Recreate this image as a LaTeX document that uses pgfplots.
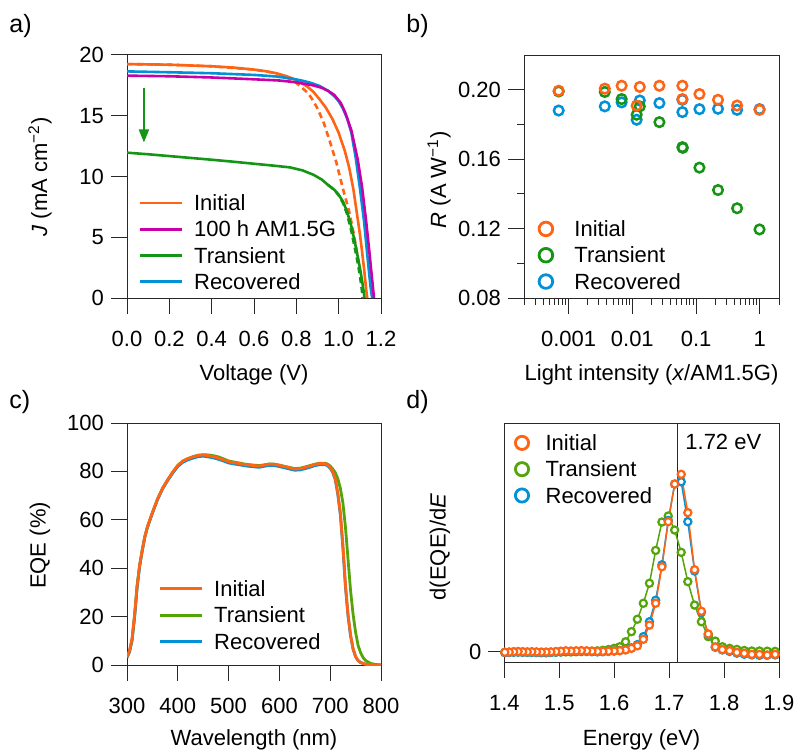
\documentclass[border=0pt]{standalone}
\usepackage{fontspec}
\setmainfont{Liberation Sans}
\usepackage{pgfplots}
\usepackage{pgfplotstable}
\pgfplotsset{compat=1.18}
\usetikzlibrary{arrows.meta}
\newcommand{\fs}{\fontsize{11}{12.5}\selectfont}
\newcommand{\fsl}{\fontsize{12.5}{14}\selectfont}
\definecolor{cOr}{RGB}{255,100,20}
\definecolor{cMa}{RGB}{200,0,170}
\definecolor{cGr}{RGB}{20,150,20}
\definecolor{cGrb}{RGB}{85,165,10}
\definecolor{cBl}{RGB}{0,145,215}
\definecolor{axc}{RGB}{40,40,40}
\pgfplotsset{
 every axis/.append style={
  scale only axis, anchor=south west,
  axis line style={line width=0.5pt, axc},
  every tick/.style={line width=0.5pt, axc},
  tick align=outside, tick pos=left,
  major tick length=8pt, minor tick length=3.5pt,
  tick label style={font=\fs, black},
  xticklabel style={yshift=-5pt},
  label style={font=\fs},
  /pgf/number format/assume math mode=true,
  legend cell align=left,
 },
 linelegend/.style={
  legend style={draw=none, fill=none, inner sep=0pt, row sep=0pt, font=\fs,
   nodes={inner sep=1pt, text height=9.43pt, text depth=1.72pt, anchor=west},
   /tikz/every odd column/.append style={column sep=4.5pt}},
  legend image code/.code={\draw[##1] (0pt,0pt) -- (21pt,0pt);}
 },
 marklegend/.style={
  legend style={draw=none, fill=none, inner sep=0pt, row sep=0pt, font=\fs,
   nodes={inner sep=1pt, text height=9.43pt, text depth=1.72pt, anchor=west},
   /tikz/every odd column/.append style={column sep=#1}},
  legend image code/.code={\draw[##1] plot coordinates {(0pt,0pt)};}
 }
}
% ---------------- panel a data
\pgfplotstableread{
V J
0.00 19.25
0.10 19.23
0.20 19.20
0.30 19.14
0.40 19.07
0.50 18.97
0.60 18.80
0.65 18.68
0.70 18.52
0.75 18.28
0.80 17.94
0.85 17.42
0.88 16.98
0.91 16.35
0.94 15.65
0.97 14.75
1.00 13.60
1.03 12.05
1.05 10.70
1.07 8.90
1.09 6.50
1.10 5.30
1.11 3.90
1.12 2.40
1.13 0.70
1.135 0.00
}\aIni
\pgfplotstableread{
V J
0.00 19.25
0.20 19.20
0.40 19.07
0.60 18.80
0.70 18.52
0.75 18.20
0.80 17.70
0.85 16.95
0.87 16.50
0.90 15.60
0.93 14.40
0.96 12.80
0.99 11.10
1.02 9.00
1.05 7.10
1.07 5.40
1.09 3.40
1.10 2.30
1.11 1.10
1.117 0.00
}\aIniD
\pgfplotstableread{
V J
0.00 18.30
0.20 18.25
0.40 18.15
0.60 18.00
0.72 17.90
0.80 17.75
0.88 17.50
0.92 17.30
0.95 17.05
0.98 16.70
1.01 16.05
1.03 15.30
1.06 13.80
1.09 11.40
1.11 9.20
1.13 6.30
1.145 3.80
1.16 1.20
1.167 0.00
}\aHun
\pgfplotstableread{
V J
0.00 11.96
0.10 11.83
0.20 11.68
0.30 11.53
0.40 11.38
0.50 11.22
0.60 11.05
0.70 10.88
0.77 10.75
0.83 10.50
0.88 10.15
0.92 9.75
0.95 9.30
0.98 8.90
1.00 8.50
1.02 7.95
1.04 7.10
1.06 5.90
1.08 4.30
1.09 3.40
1.10 2.50
1.11 1.50
1.12 0.30
1.122 0.00
}\aTra
\pgfplotstableread{
V J
0.95 9.30
0.98 8.90
1.00 8.45
1.02 7.85
1.04 6.90
1.06 5.50
1.08 3.80
1.09 2.90
1.10 1.90
1.11 0.60
1.113 0.00
}\aTraD
\pgfplotstableread{
V J
0.00 18.65
0.20 18.58
0.40 18.50
0.60 18.36
0.70 18.24
0.77 18.08
0.82 17.92
0.87 17.70
0.91 17.45
0.95 17.05
0.98 16.60
1.00 16.20
1.02 15.60
1.04 14.80
1.06 13.60
1.08 11.60
1.10 9.10
1.12 6.30
1.135 3.60
1.15 1.00
1.158 0.00
}\aRec
% ---------------- panel b data
\pgfplotstableread{
x R
7.0e-4 0.1994
3.7e-3 0.2006
6.8e-3 0.2023
1.17e-2 0.1908
1.31e-2 0.2016
2.66e-2 0.2023
6.1e-2 0.2023
6.1e-2 0.1946
0.113 0.1975
0.221 0.1942
0.44 0.1909
0.99 0.1884
}\bIni
\pgfplotstableread{
x R
7.0e-4 0.1990
3.7e-3 0.1987
6.8e-3 0.1946
1.17e-2 0.1856
1.31e-2 0.1904
2.66e-2 0.1813
6.1e-2 0.1669
6.2e-2 0.1665
0.113 0.1551
0.221 0.1422
0.44 0.1317
0.99 0.1195
}\bTra
\pgfplotstableread{
x R
7.0e-4 0.1880
3.7e-3 0.1904
6.8e-3 0.1927
1.17e-2 0.1827
1.31e-2 0.1938
2.66e-2 0.1923
6.1e-2 0.1871
6.1e-2 0.1942
0.113 0.1888
0.221 0.1890
0.44 0.1884
0.99 0.1888
}\bRec
% ---------------- panel c data
\pgfplotstableread{
L E
300 3.4
305 6.0
310 11.0
315 21.0
320 33.0
325 41.5
330 47.5
335 53.0
340 57.0
350 63.0
360 68.5
370 73.0
380 76.5
390 79.7
400 82.5
410 84.3
420 85.3
430 86.0
440 86.6
450 86.8
460 86.5
470 86.1
480 85.5
490 84.8
500 84.0
510 83.6
520 83.3
530 82.9
540 82.6
550 82.4
560 82.2
570 82.6
580 83.0
590 82.9
600 82.5
610 82.0
620 81.5
630 81.0
640 81.1
650 81.6
660 82.2
670 82.9
680 83.3
690 83.2
695 82.6
700 81.6
705 80.0
710 77.0
715 71.0
720 63.0
725 49.5
730 33.0
735 21.0
740 12.5
745 6.8
750 3.5
755 1.8
760 1.0
770 0.3
780 0.1
790 0.0
800 0.0
}\cIni
\pgfplotstableread{
L E
300 3.2
305 5.6
310 10.4
315 20.2
320 32.4
325 41.0
330 47.2
335 52.8
340 56.8
350 62.8
360 68.3
370 72.8
380 76.2
390 79.3
400 82.0
410 83.8
420 84.8
430 85.5
440 86.1
450 86.3
460 86.0
470 85.6
480 85.0
490 84.3
500 83.5
510 83.1
520 82.8
530 82.4
540 82.1
550 81.9
560 81.7
570 82.1
580 82.5
590 82.4
600 82.0
610 81.5
620 81.0
630 80.5
640 80.6
650 81.1
660 81.7
670 82.4
680 82.8
690 82.8
695 82.3
700 81.3
705 79.6
710 76.5
715 70.5
720 62.0
725 48.5
730 32.5
735 20.5
740 12.2
745 6.6
750 3.4
755 1.8
760 1.0
770 0.3
780 0.1
790 0.0
800 0.0
}\cRec
\pgfplotstableread{
L E
300 3.0
305 5.5
310 10.2
315 20.0
320 32.5
325 41.2
330 47.3
335 52.8
340 56.8
350 62.9
360 68.5
370 73.0
380 76.5
390 79.7
400 82.5
410 84.3
420 85.3
430 86.1
440 86.7
450 86.9
460 86.8
470 86.5
480 86.0
490 85.2
500 84.3
510 83.9
520 83.5
530 83.1
540 82.8
550 82.6
560 82.4
570 82.7
580 83.1
590 83.0
600 82.6
610 82.1
620 81.6
630 81.2
640 81.3
650 81.8
660 82.4
670 83.0
680 83.4
690 83.4
695 83.0
700 82.2
705 81.0
710 79.5
715 77.0
720 73.0
725 67.0
730 57.0
735 44.0
740 31.0
745 21.0
750 13.5
755 8.0
760 5.0
765 3.0
770 1.8
780 0.6
790 0.2
800 0.0
}\cTra
% ---------------- panel d data
\pgfplotstableread{
E D
1.8929 -0.015
1.8785 -0.019
1.8644 -0.015
1.8505 -0.015
1.8368 -0.009
1.8233 -0.004
1.8100 0.006
1.7969 0.012
1.7840 0.027
1.7712 0.100
1.7587 0.228
1.7463 0.462
1.7340 0.784
1.7220 1.000
1.7101 0.945
1.6984 0.733
1.6869 0.479
1.6755 0.273
1.6642 0.150
1.6531 0.070
1.6422 0.033
1.6314 0.019
1.6207 0.010
1.6102 0.006
1.5998 0.004
1.5895 0.003
1.5794 0.002
1.5694 0.002
1.5595 0.003
1.5498 0.005
1.5402 0.006
1.5307 0.005
1.5213 0.004
1.5120 0.005
1.5028 0.003
1.4938 0.001
1.4848 -0.001
1.4760 -0.002
1.4673 -0.002
1.4586 -0.001
1.4501 0.000
1.4417 -0.001
1.4334 0.000
1.4251 0.001
1.4170 0.000
1.4089 -0.002
1.4009 -0.003
}\dIni
\pgfplotstableread{
E D
1.8929 -0.018
1.8785 -0.020
1.8644 -0.020
1.8505 -0.018
1.8368 -0.014
1.8233 -0.008
1.8100 0.002
1.7969 0.010
1.7840 0.025
1.7712 0.098
1.7587 0.222
1.7463 0.455
1.7340 0.733
1.7220 0.958
1.7101 0.945
1.6984 0.740
1.6869 0.490
1.6755 0.290
1.6642 0.169
1.6531 0.085
1.6422 0.040
1.6314 0.022
1.6207 0.012
1.6102 0.007
1.5998 0.004
1.5895 0.002
1.5794 0.000
1.5694 -0.001
1.5595 0.000
1.5498 0.002
1.5402 0.003
1.5307 0.002
1.5213 0.001
1.5120 0.002
1.5028 0.000
1.4938 -0.002
1.4848 -0.004
1.4760 -0.005
1.4673 -0.005
1.4586 -0.004
1.4501 -0.003
1.4417 -0.004
1.4334 -0.003
1.4251 -0.002
1.4170 -0.003
1.4089 -0.004
1.4009 -0.005
}\dRec
\pgfplotstableread{
E D
1.8929 0.002
1.8785 0.003
1.8644 0.004
1.8505 0.004
1.8368 0.007
1.8233 0.013
1.8100 0.019
1.7969 0.028
1.7840 0.060
1.7712 0.085
1.7587 0.169
1.7463 0.263
1.7340 0.395
1.7220 0.560
1.7101 0.686
1.6984 0.765
1.6869 0.731
1.6755 0.571
1.6642 0.386
1.6531 0.273
1.6422 0.183
1.6314 0.113
1.6207 0.056
1.6102 0.028
1.5998 0.019
1.5895 0.012
1.5794 0.008
1.5694 0.005
1.5595 0.003
1.5498 0.002
1.5402 0.001
1.5307 0.000
1.5213 -0.001
1.5120 -0.001
1.5028 -0.002
1.4938 -0.003
1.4848 -0.004
1.4760 -0.005
1.4673 -0.005
1.4586 -0.004
1.4501 -0.004
1.4417 -0.003
1.4334 -0.003
1.4251 -0.002
1.4170 -0.002
1.4089 -0.003
1.4009 -0.004
}\dTra
\begin{document}
\begin{tikzpicture}
\path[use as bounding box] (0pt,0pt) rectangle (398pt,-376.5pt);
\node[anchor=west,inner sep=0pt,font=\fsl] at (4.5pt,-12.9pt) {a)};
\node[anchor=west,inner sep=0pt,font=\fsl] at (203pt,-12.9pt) {b)};
\node[anchor=west,inner sep=0pt,font=\fsl] at (4.5pt,-201.2pt) {c)};
\node[anchor=west,inner sep=0pt,font=\fsl] at (203pt,-201.2pt) {d)};
% ================= a
\begin{axis}[at={(63.5pt,-149pt)}, width=127pt, height=121.5pt,
  xmin=0, xmax=1.2, ymin=0, ymax=20,
  xtick={0,0.2,0.4,0.6,0.8,1.0,1.2}, ytick={0,5,10,15,20},
  xticklabel style={/pgf/number format/.cd,fixed,fixed zerofill,precision=1},
  xlabel={Voltage (V)}, ylabel={\textit{J} (mA cm\textsuperscript{−2})},
  xlabel style={at={(axis description cs:0.5,-0.317)}, anchor=center},
  ylabel style={at={(axis description cs:-0.3425,0.498)}, anchor=center, rotate=0},
  linelegend,
  legend style={at={(axis description cs:0.043,0.447)}, anchor=north west}]
\addlegendimage{cOr, line width=1.4pt}\addlegendentry{Initial}
\addlegendimage{cMa, line width=1.4pt}\addlegendentry{100 h AM1.5G}
\addlegendimage{cGr, line width=1.4pt}\addlegendentry{Transient}
\addlegendimage{cBl, line width=1.4pt}\addlegendentry{Recovered}
\addplot[cOr, line width=1.3pt, dash pattern=on 3pt off 2pt, forget plot] table[x=V,y=J] {\aIniD};
\addplot[cOr, line width=1.3pt, forget plot] table[x=V,y=J] {\aIni};
\addplot[cGr, line width=1.3pt, forget plot] table[x=V,y=J] {\aTra};
\addplot[cGr, line width=1.3pt, dash pattern=on 3pt off 2pt, forget plot] table[x=V,y=J] {\aTraD};
\addplot[cBl, line width=1.3pt, forget plot] table[x=V,y=J] {\aRec};
\addplot[cMa, line width=1.3pt, forget plot] table[x=V,y=J] {\aHun};
\addplot[cGr, line width=1pt, forget plot, -{Triangle[length=6.5pt,width=5pt]}] coordinates {(0.08,17.26) (0.08,12.8)};
\end{axis}
% ================= b
\begin{axis}[at={(262pt,-149pt)}, width=127.5pt, height=121.5pt,
  xmode=log, xmin=2e-4, xmax=2, ymin=0.08, ymax=0.22,
  xtick={0.001,0.01,0.1,1}, xticklabels={0.001,0.01,0.1,1},
  minor xtick={2e-4,3e-4,4e-4,5e-4,6e-4,7e-4,8e-4,9e-4,2e-3,3e-3,4e-3,5e-3,6e-3,7e-3,8e-3,9e-3,0.02,0.03,0.04,0.05,0.06,0.07,0.08,0.09,0.2,0.3,0.4,0.5,0.6,0.7,0.8,0.9,2},
  ytick={0.08,0.12,0.16,0.20}, minor ytick={0.10,0.14,0.18},
  yticklabel style={/pgf/number format/.cd,fixed,fixed zerofill,precision=2},
  xlabel={Light intensity (\textit{x}/AM1.5G)}, ylabel={\textit{R} (A W\textsuperscript{−1})},
  xlabel style={at={(axis description cs:0.5,-0.317)}, anchor=center},
  ylabel style={at={(axis description cs:-0.333,0.486)}, anchor=center},
  marklegend=9.85pt,
  legend style={at={(axis description cs:0.0577,0.340)}, anchor=north west}]
\addlegendimage{only marks, mark=o, color=cOr, mark size=3.4pt, mark options={line width=1.4pt}}\addlegendentry{Initial}
\addlegendimage{only marks, mark=o, color=cGr, mark size=3.4pt, mark options={line width=1.4pt}}\addlegendentry{Transient}
\addlegendimage{only marks, mark=o, color=cBl, mark size=3.4pt, mark options={line width=1.4pt}}\addlegendentry{Recovered}
\addplot[only marks, mark=o, color=cBl, mark size=2.4pt, mark options={line width=1.25pt}, forget plot] table[x=x,y=R] {\bRec};
\addplot[only marks, mark=o, color=cGr, mark size=2.4pt, mark options={line width=1.25pt}, forget plot] table[x=x,y=R] {\bTra};
\addplot[only marks, mark=o, color=cOr, mark size=2.4pt, mark options={line width=1.25pt}, forget plot] table[x=x,y=R] {\bIni};
\end{axis}
% ================= c
\begin{axis}[at={(63.5pt,-332.5pt)}, width=127pt, height=121pt,
  xmin=300, xmax=800, ymin=0, ymax=100,
  xtick={300,400,500,600,700,800}, ytick={0,20,40,60,80,100},
  xlabel={Wavelength (nm)}, ylabel={EQE (\%)},
  xlabel style={at={(axis description cs:0.5,-0.31)}, anchor=center},
  ylabel style={at={(axis description cs:-0.3425,0.494)}, anchor=center},
  linelegend,
  legend style={at={(axis description cs:0.122,0.3705)}, anchor=north west}]
\addlegendimage{cOr, line width=1.4pt}\addlegendentry{Initial}
\addlegendimage{cGrb, line width=1.4pt}\addlegendentry{Transient}
\addlegendimage{cBl, line width=1.4pt}\addlegendentry{Recovered}
\addplot[cGrb, line width=1.4pt, forget plot] table[x=L,y=E] {\cTra};
\addplot[cBl, line width=1.4pt, forget plot] table[x=L,y=E] {\cRec};
\addplot[cOr, line width=1.4pt, forget plot] table[x=L,y=E] {\cIni};
\end{axis}
% ================= d
\begin{axis}[at={(252.15pt,-331pt)}, width=137.35pt, height=119.35pt,
  xmin=1.4, xmax=1.9, ymin=-0.058, ymax=1.2875,
  xtick={1.4,1.5,1.6,1.7,1.8,1.9}, ytick={0},
  xticklabel style={/pgf/number format/.cd,fixed,fixed zerofill,precision=1},
  xlabel={Energy (eV)}, ylabel={d(EQE)/d\textit{E}},
  xlabel style={at={(axis description cs:0.5,-0.327)}, anchor=center},
  ylabel style={at={(axis description cs:-0.234,0.482)}, anchor=center},
  marklegend=7.5pt,
  legend style={at={(axis description cs:0.039,0.9747)}, anchor=north west}]
\addlegendimage{only marks, mark=o, color=cOr, mark size=3.3pt, mark options={line width=1.4pt}}\addlegendentry{Initial}
\addlegendimage{only marks, mark=o, color=cGrb, mark size=3.3pt, mark options={line width=1.4pt}}\addlegendentry{Transient}
\addlegendimage{only marks, mark=o, color=cBl, mark size=3.3pt, mark options={line width=1.4pt}}\addlegendentry{Recovered}
\addplot[axc, line width=0.6pt, forget plot] coordinates {(1.7156,-0.058) (1.7156,1.2875)};
\addplot[cGrb, line width=0.75pt, mark=*, mark size=1.8pt, mark options={fill=white, line width=1.1pt}, forget plot] table[x=E,y=D] {\dTra};
\addplot[cBl, line width=0.75pt, mark=*, mark size=1.8pt, mark options={fill=white, line width=1.1pt}, forget plot] table[x=E,y=D] {\dRec};
\addplot[cOr, line width=0.75pt, mark=*, mark size=1.8pt, mark options={fill=white, line width=1.1pt}, forget plot] table[x=E,y=D] {\dIni};
\node[anchor=west, inner sep=0pt, font=\fs] at (axis cs:1.7289,1.182) {1.72 eV};
\end{axis}
\end{tikzpicture}
\end{document}
